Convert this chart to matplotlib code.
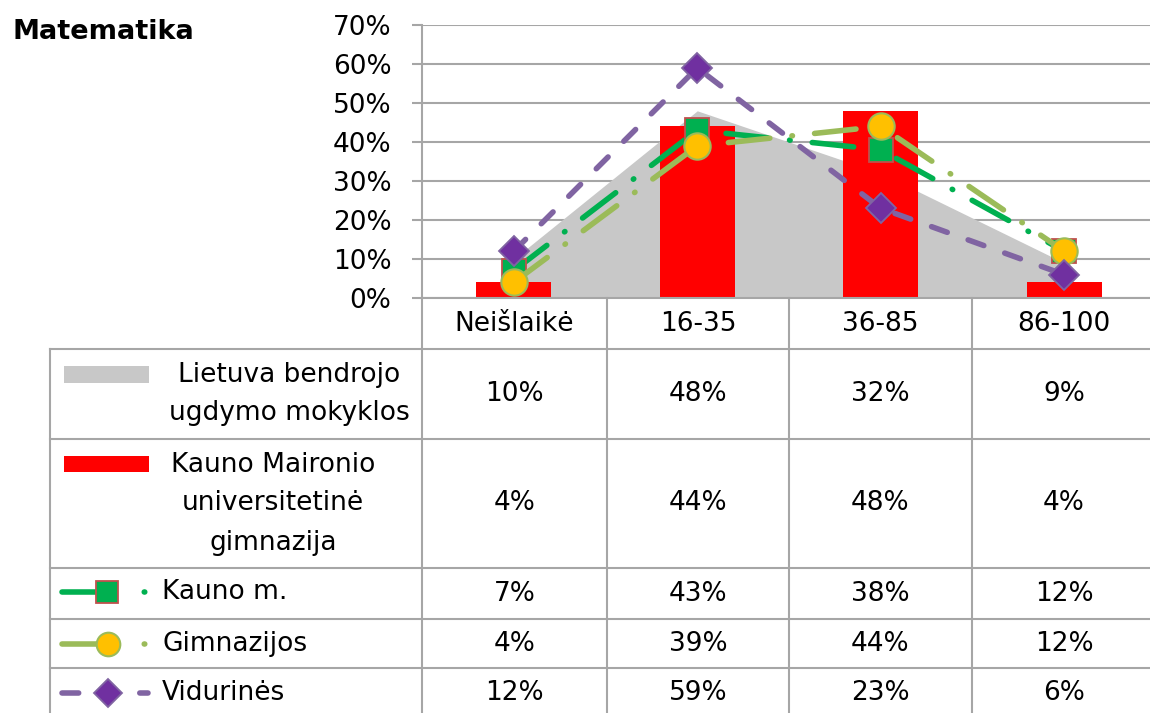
import numpy as np
import matplotlib
matplotlib.use("Agg")
import matplotlib.pyplot as plt

plt.rcParams['font.family'] = ['DejaVu Sans']

# data (percent)
categories = ['Neišlaikė', '16-35', '36-85', '86-100']
lietuva = [10, 48, 32, 9]
maironio = [4, 44, 48, 4]
kauno_m = [7, 43, 38, 12]
gimnazijos = [4, 39, 44, 12]
vidurines = [12, 59, 23, 6]
yticks = [0, 10, 20, 30, 40, 50, 60, 70]

W, H = 1150, 713
GRID = '#a6a6a6'
FS = 19

fig = plt.figure(figsize=(W / 100, H / 100), dpi=100)
fig.set_facecolor('white')

# plot area (pixel layout of the reference)
x0, x1, y0, y1 = 422, 1156, 298, 25
ax = fig.add_axes([x0 / W, 1 - y0 / H, (x1 - x0) / W, (y0 - y1) / H])
x = np.arange(len(categories))

ax.fill_between(x, lietuva, 0, color='#c8c8c8', lw=0, zorder=1)
ax.bar(x, maironio, width=0.41, color='#ff0000', zorder=2)

lw = 4.0
ax.plot(x, kauno_m, color='#00b050', lw=lw, dashes=(7.5, 4, 0.1, 4),
        dash_capstyle='round', marker='s', ms=17, mfc='#00b050',
        mec='#c0504d', mew=1.3, zorder=3)
ax.plot(x, gimnazijos, color='#9bbb59', lw=lw, dashes=(7.5, 4, 0.1, 4),
        dash_capstyle='round', marker='o', ms=19, mfc='#ffc000',
        mec='#9bbb59', mew=1.5, zorder=4)
ax.plot(x, vidurines, color='#8064a2', lw=lw, dashes=(3, 4),
        dash_capstyle='round', marker='D', ms=15, mfc='#7030a0',
        mec='#8064a2', mew=1.3, zorder=5)

ax.set_xlim(-0.5, 3.5)
ax.set_ylim(0, 70)
ax.set_yticks(yticks)
ax.set_yticklabels([f'{v}%' for v in yticks], fontsize=FS)
ax.set_xticks([])
ax.grid(axis='y', color=GRID, lw=1.5, zorder=0)
ax.set_axisbelow(True)
for s in ['top', 'right', 'bottom']:
    ax.spines[s].set_visible(False)
ax.spines['left'].set_color(GRID)
ax.spines['left'].set_linewidth(1.5)
ax.tick_params(axis='y', length=7, width=1.5, color=GRID, pad=15)

fig.text(12 / W, 1 - 32 / H, 'Matematika', fontsize=19.5, fontweight='bold',
         va='center', ha='left')

# data table below the plot, drawn on a full-figure overlay
tab = fig.add_axes([0, 0, 1, 1])
tab.set_xlim(0, W)
tab.set_ylim(H, 0)
tab.axis('off')

col_edges = [422, 607, 789, 972, 1156]
row_edges = [298, 349, 439, 568, 619, 668, 713]
col_centers = [(a + b) / 2 for a, b in zip(col_edges[:-1], col_edges[1:])]

tab.plot([x0, W], [298, 298], color=GRID, lw=1.5)
for yy in row_edges[1:-1]:
    tab.plot([50, W], [yy, yy], color=GRID, lw=1.5)
for xx in col_edges[:-1]:
    tab.plot([xx, xx], [298, H], color=GRID, lw=1.5)
tab.plot([50, 50], [349, H], color=GRID, lw=1.5)

for cx, lab in zip(col_centers, categories):
    tab.text(cx, 324, lab, fontsize=FS, ha='center', va='center')

rows = [lietuva, maironio, kauno_m, gimnazijos, vidurines]
row_y = [394, 503, 594, 644, 693]
for vals, ry in zip(rows, row_y):
    for cx, v in zip(col_centers, vals):
        tab.text(cx, ry, f'{v}%', fontsize=FS, ha='center', va='center')

# legend keys and labels
tab.add_patch(plt.Rectangle((64, 366), 85, 17, color='#c8c8c8', lw=0))
tab.text(289, 375, 'Lietuva bendrojo', fontsize=FS, ha='center', va='center')
tab.text(289, 413, 'ugdymo mokyklos', fontsize=FS, ha='center', va='center')

tab.add_patch(plt.Rectangle((64, 456), 85, 16, color='#ff0000', lw=0))
tab.text(273, 465, 'Kauno Maironio', fontsize=FS, ha='center', va='center')
tab.text(273, 503, 'universitetinė', fontsize=FS, ha='center', va='center')
tab.text(273, 543, 'gimnazija', fontsize=FS, ha='center', va='center')

tab.plot([62, 107, 152], [592] * 3, color='#00b050', lw=lw,
         dashes=(9.5, 5.3, 0.1, 4), dash_capstyle='round', marker='s',
         markevery=[1], ms=16, mfc='#00b050', mec='#c0504d', mew=1.3)
tab.text(162, 592, 'Kauno m.', fontsize=FS, ha='left', va='center')

tab.plot([62, 108, 152], [644] * 3, color='#9bbb59', lw=lw,
         dashes=(9.5, 5.3, 0.1, 4), dash_capstyle='round', marker='o',
         markevery=[1], ms=17, mfc='#ffc000', mec='#9bbb59', mew=1.5)
tab.text(162, 644, 'Gimnazijos', fontsize=FS, ha='left', va='center')

tab.plot([62, 108, 148], [693] * 3, color='#8064a2', lw=lw,
         dashes=(3, 4), dash_capstyle='round', marker='D',
         markevery=[1], ms=14, mfc='#7030a0', mec='#8064a2', mew=1.3)
tab.text(162, 693, 'Vidurinės', fontsize=FS, ha='left', va='center')

plt.savefig('out.png', dpi=100)
